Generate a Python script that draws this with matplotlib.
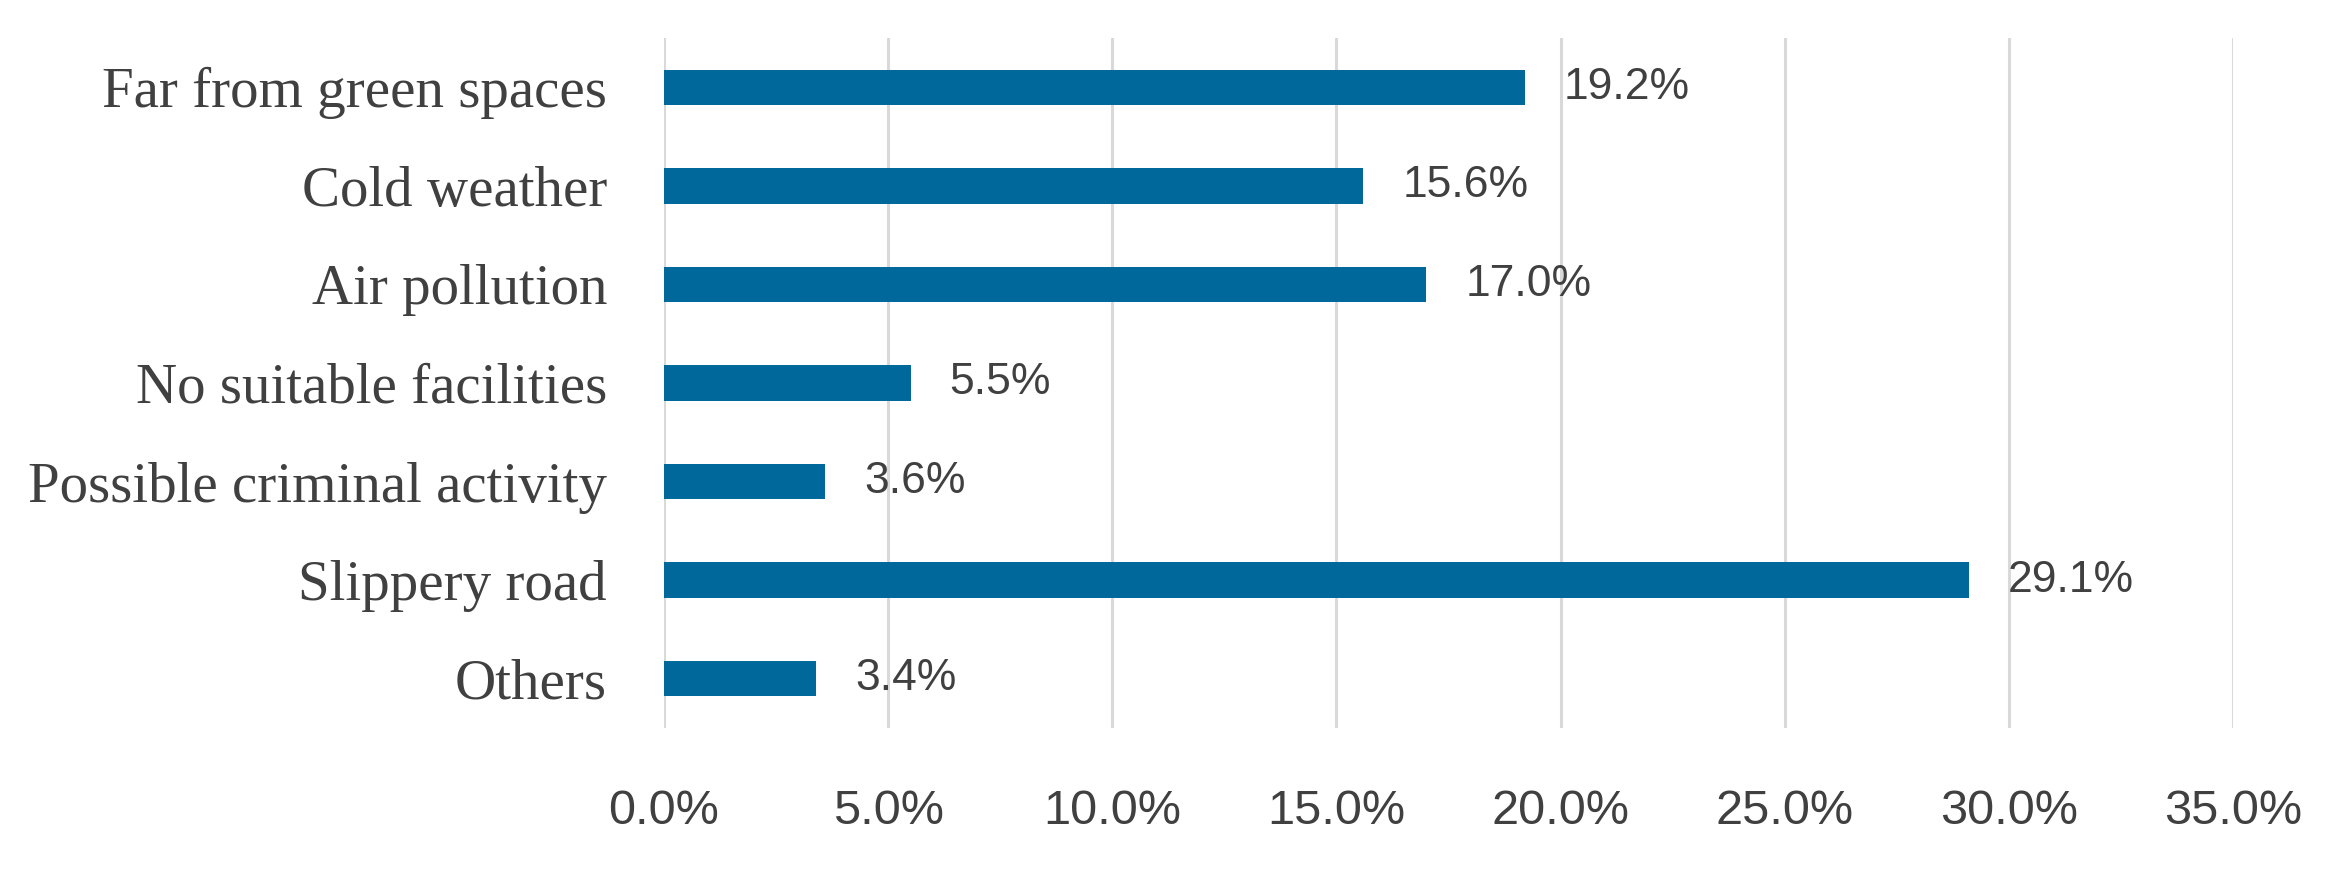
import matplotlib
matplotlib.use("Agg")
import matplotlib.pyplot as plt
from matplotlib.ticker import FuncFormatter

categories = ["Far from green spaces", "Cold weather", "Air pollution",
              "No suitable facilities", "Possible criminal activity",
              "Slippery road", "Others"]
values = [19.2, 15.6, 17.0, 5.5, 3.6, 29.1, 3.4]
xticks = [0, 5, 10, 15, 20, 25, 30, 35]

bar_color = "#00689A"
text_color = "#404040"

fig = plt.figure(figsize=(23.39, 8.88), dpi=100)
ax = fig.add_axes([0.2839, 0.1802, 0.6708, 0.7770])

ypos = list(range(len(categories)))
ax.barh(ypos, values, height=0.36, color=bar_color, zorder=3)
ax.set_ylim(len(categories) - 0.5, -0.5)
ax.set_yticks(ypos)
ax.set_yticklabels(categories, family="Liberation Serif", fontsize=41, color=text_color)

ax.set_xlim(0, 35)
ax.set_xticks(xticks)
ax.xaxis.set_major_formatter(FuncFormatter(lambda v, p: f"{v:.1f}%"))
for lbl in ax.get_xticklabels():
    lbl.set_family("Liberation Sans")
    lbl.set_fontsize(35)
    lbl.set_color(text_color)

ax.tick_params(axis="both", length=0)
ax.tick_params(axis="y", pad=41)
ax.tick_params(axis="x", pad=44)
ax.grid(axis="x", color="#d9d9d9", linewidth=2.2, zorder=0)
for s in ax.spines.values():
    s.set_visible(False)

for y, v in zip(ypos, values):
    ax.text(v + 0.87, y, f"{v:.1f}%", va="center", ha="left",
            family="Liberation Sans", fontsize=32, color=text_color)

fig.savefig("out.png", dpi=100)
